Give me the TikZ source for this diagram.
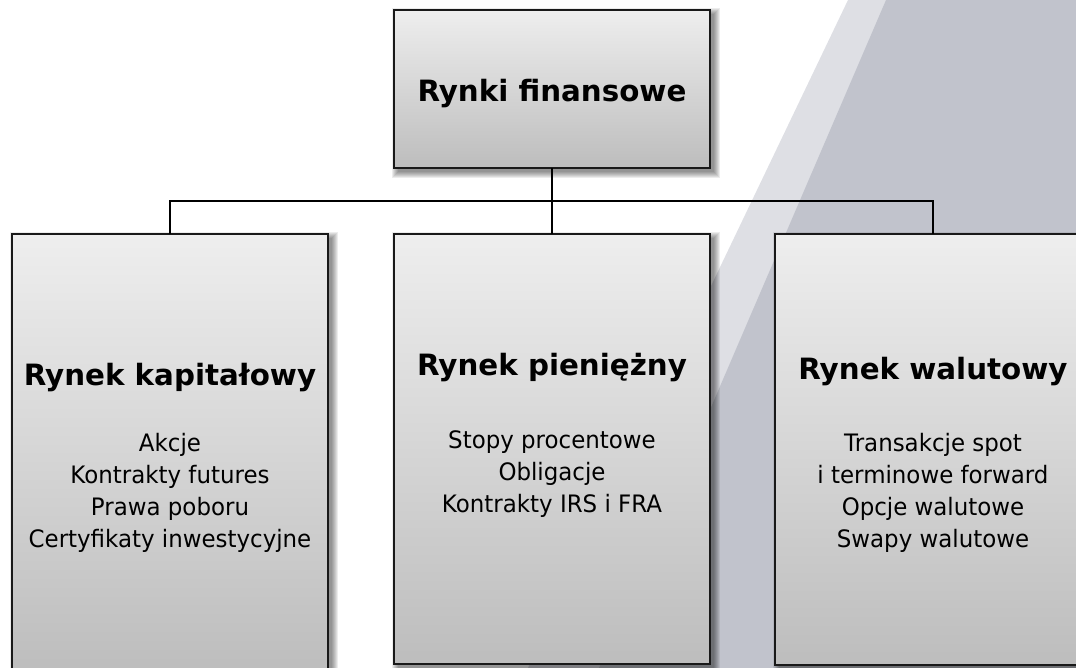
\documentclass[tikz,border=0pt]{standalone}
\usepackage{fontspec}
\setmainfont{DejaVu Sans}
\newfontfamily\bodyf{DejaVu Sans}[FakeStretch=0.955]
\usetikzlibrary{calc}
\pgfdeclarelayer{bands}
\pgfdeclarelayer{shade}
\pgfsetlayers{bands,shade,main}
\definecolor{bandlight}{HTML}{DEDFE4}
\definecolor{banddark}{HTML}{C1C3CC}
\definecolor{boxtop}{HTML}{EEEEEE}
\definecolor{boxbot}{HTML}{BDBDBD}
\tikzset{
  box/.style={draw=black!90, line width=1.4pt, top color=boxtop, bottom color=boxbot,
    inner sep=0pt, outer sep=0pt, minimum width=316*0.75pt},
  head/.style={font=\bfseries\fontsize{22pt}{26pt}\selectfont, anchor=base, inner sep=0pt},
  bodyline/.style={font=\bodyf\fontsize{18pt}{24pt}\selectfont, anchor=base, inner sep=0pt},
  link/.style={draw=black, line width=1.4pt},
}
\newcommand\myshadow[1]{%
  \begin{pgfonlayer}{shade}
    \foreach \e in {0,...,6}{
      \fill[black, opacity=0.075] ($(#1.north west)+(4-\e,4-\e)$) rectangle ($(#1.south east)+(4+\e,4+\e)$);
    }
  \end{pgfonlayer}}
\begin{document}
\begin{tikzpicture}[x=0.75pt, y=-0.75pt]
\useasboundingbox (0,0) rectangle (1076,668);
\begin{pgfonlayer}{bands}
  \fill[bandlight] (848,0) -- (1076,0) -- (1076,668) -- (528,668) -- cycle;
  \fill[banddark] (886,0) -- (1076,0) -- (1076,668) -- (599,668) -- cycle;
\end{pgfonlayer}

\node[box, minimum height=158*0.75pt] (top) at (552,89) {};
\node[box, minimum height=438*0.75pt] (lft) at (170,453) {};
\node[box, minimum height=430*0.75pt] (mid) at (552,449) {};
\node[box, minimum height=431*0.75pt] (rgt) at (933,449.5) {};
\myshadow{top}
\myshadow{lft}
\myshadow{mid}
\myshadow{rgt}

\coordinate (busy) at ($(top.south)!0.5!(mid.north)$);
\draw[link] (top.south) -- (mid.north);
\draw[link] (lft.north) |- (busy) -| (rgt.north);

\node[head] (topt) at (552,101.5) {Rynki finansowe};

\node[head] (lh) at (170,385) {Rynek kapitałowy};
\node[bodyline] (l1) at (170,451) {Akcje};
\node[bodyline] (l2) at (170,483) {Kontrakty futures};
\node[bodyline] (l3) at (170,515) {Prawa poboru};
\node[bodyline] (l4) at (170,547) {Certyfikaty inwestycyjne};

\node[head] (mh) at (552,375) {Rynek pieniężny};
\node[bodyline] (m1) at (552,448) {Stopy procentowe};
\node[bodyline] (m2) at (552,480) {Obligacje};
\node[bodyline] (m3) at (552,512) {Kontrakty IRS i FRA};

\node[head] (rh) at (933,379) {Rynek walutowy};
\node[bodyline] (r1) at (933,451) {Transakcje spot};
\node[bodyline] (r2) at (933,483) {i terminowe forward};
\node[bodyline] (r3) at (933,515) {Opcje walutowe};
\node[bodyline] (r4) at (933,547) {Swapy walutowe};
\end{tikzpicture}
\end{document}
